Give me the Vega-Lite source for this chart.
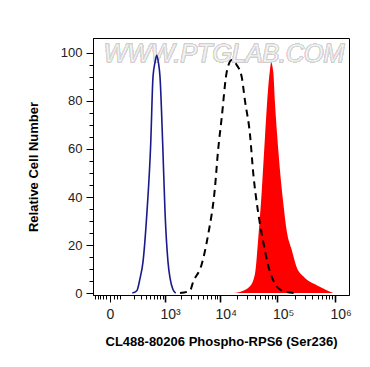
{
  "$schema": "https://vega.github.io/schema/vega-lite/v6.json",
  "width": 256,
  "height": 257,
  "autosize": {"type": "none"},
  "padding": {"left": 93, "top": 38, "right": 21, "bottom": 72},
  "background": "white",
  "config": {
    "view": {"stroke": "#000000", "strokeWidth": 1},
    "font": "Liberation Sans"
  },
  "data": {
    "values": [
      {"series": "blue", "x": 180, "y": 0},
      {"series": "blue", "x": 240, "y": 1},
      {"series": "blue", "x": 289, "y": 6},
      {"series": "blue", "x": 342, "y": 13},
      {"series": "blue", "x": 423, "y": 34},
      {"series": "blue", "x": 510, "y": 62},
      {"series": "blue", "x": 571, "y": 90},
      {"series": "blue", "x": 629, "y": 96},
      {"series": "blue", "x": 682, "y": 99},
      {"series": "blue", "x": 739, "y": 96},
      {"series": "blue", "x": 796, "y": 90},
      {"series": "blue", "x": 901, "y": 62},
      {"series": "blue", "x": 999, "y": 34},
      {"series": "blue", "x": 1142, "y": 13},
      {"series": "blue", "x": 1255, "y": 6},
      {"series": "blue", "x": 1420, "y": 1.5},
      {"series": "blue", "x": 1600, "y": 0},
      {"series": "dashed", "x": 1922, "y": 0},
      {"series": "dashed", "x": 2926, "y": 1},
      {"series": "dashed", "x": 3315, "y": 4.5},
      {"series": "dashed", "x": 4744, "y": 12},
      {"series": "dashed", "x": 6137, "y": 24},
      {"series": "dashed", "x": 8150, "y": 44},
      {"series": "dashed", "x": 9207, "y": 59},
      {"series": "dashed", "x": 10700, "y": 73},
      {"series": "dashed", "x": 13090, "y": 92},
      {"series": "dashed", "x": 16000, "y": 97},
      {"series": "dashed", "x": 19570, "y": 95},
      {"series": "dashed", "x": 23930, "y": 90},
      {"series": "dashed", "x": 27320, "y": 80},
      {"series": "dashed", "x": 33380, "y": 66},
      {"series": "dashed", "x": 38000, "y": 50},
      {"series": "dashed", "x": 46000, "y": 34},
      {"series": "dashed", "x": 56000, "y": 22},
      {"series": "dashed", "x": 70000, "y": 11},
      {"series": "dashed", "x": 90000, "y": 4},
      {"series": "dashed", "x": 120000, "y": 1},
      {"series": "dashed", "x": 165000, "y": 0.2},
      {"series": "dashed", "x": 220000, "y": 0},
      {"series": "red", "x": 16860, "y": 0},
      {"series": "red", "x": 22350, "y": 0.5},
      {"series": "red", "x": 33380, "y": 2.8},
      {"series": "red", "x": 40790, "y": 8},
      {"series": "red", "x": 46550, "y": 23},
      {"series": "red", "x": 53300, "y": 42},
      {"series": "red", "x": 60840, "y": 65},
      {"series": "red", "x": 69440, "y": 86},
      {"series": "red", "x": 74340, "y": 93},
      {"series": "red", "x": 78000, "y": 96},
      {"series": "red", "x": 84850, "y": 92},
      {"series": "red", "x": 90820, "y": 79},
      {"series": "red", "x": 99560, "y": 65},
      {"series": "red", "x": 110900, "y": 51},
      {"series": "red", "x": 126500, "y": 37.5},
      {"series": "red", "x": 145000, "y": 26},
      {"series": "red", "x": 177100, "y": 18},
      {"series": "red", "x": 216200, "y": 10.8},
      {"series": "red", "x": 281400, "y": 7},
      {"series": "red", "x": 367900, "y": 4.7},
      {"series": "red", "x": 481000, "y": 3.3},
      {"series": "red", "x": 717300, "y": 1.2},
      {"series": "red", "x": 934300, "y": 0}
    ]
  },
  "encoding": {
    "x": {
      "field": "x",
      "type": "quantitative",
      "scale": {"type": "symlog", "constant": 125, "domain": [-121.5, 1747000], "nice": false},
      "axis": {
        "title": "CL488-80206 Phospho-RPS6 (Ser236)",
        "titleFont": "Liberation Sans",
        "titleFontSize": 13,
        "titleFontWeight": "bold",
        "titleColor": "#000000",
        "titlePadding": 14,
        "values": [-100, -80, -60, -40, -20, 0, 20, 40, 60, 200, 300, 400, 500, 600, 700, 800, 900, 1000, 2000, 3000, 4000, 5000, 6000, 7000, 8000, 9000, 10000, 20000, 30000, 40000, 50000, 60000, 70000, 80000, 90000, 100000, 200000, 300000, 400000, 500000, 600000, 700000, 800000, 900000, 1000000],
        "labelExpr": "datum.value == 0 ? '0' : datum.value == 1000 ? '10³' : datum.value == 10000 ? '10⁴' : datum.value == 100000 ? '10⁵' : datum.value == 1000000 ? '10⁶' : ''",
        "labelFont": "Liberation Sans",
        "labelFontSize": 14,
        "labelColor": "#222222",
        "labelAlign": "left",
        "labelOffset": {"condition": {"test": "datum.value == 0", "value": -4}, "value": -5},
        "labelPadding": 5,
        "labelOverlap": false,
        "labelFlush": false,
        "grid": false,
        "domainColor": "#000000",
        "tickColor": "#000000",
        "tickSize": {"condition": {"test": "indexof([0,1000,10000,100000,1000000], datum.value) >= 0", "value": 7}, "value": 4},
        "tickWidth": {"condition": {"test": "indexof([1000,10000,100000,1000000], datum.value) >= 0", "value": 1.6}, "value": 1}
      }
    },
    "y": {
      "field": "y",
      "type": "quantitative",
      "scale": {"domain": [-0.8, 106.2], "nice": false, "zero": false},
      "axis": {
        "title": "Relative Cell Number",
        "titleFont": "Liberation Sans",
        "titleFontSize": 13,
        "titleFontWeight": "bold",
        "titleColor": "#000000",
        "titlePadding": 20,
        "values": [0, 5, 10, 15, 20, 25, 30, 35, 40, 45, 50, 55, 60, 65, 70, 75, 80, 85, 90, 95, 100],
        "labelExpr": "datum.value % 20 == 0 ? datum.label : ''",
        "labelFont": "Liberation Sans",
        "labelFontSize": 13,
        "labelColor": "#222222",
        "labelPadding": 4,
        "labelOverlap": false,
        "labelFlush": false,
        "grid": false,
        "domainColor": "#000000",
        "tickColor": "#000000",
        "tickSize": {"condition": {"test": "datum.value % 20 == 0", "value": 7}, "value": 4}
      }
    }
  },
  "layer": [
    {
      "mark": {"type": "text", "text": "WWW.PTGLAB.COM", "font": "Liberation Sans", "fontSize": 25, "fontStyle": "italic", "fill": "#f7f7f7", "stroke": "#cfcfcf", "strokeWidth": 0.6, "align": "center", "baseline": "middle", "dx": 1},
      "encoding": {
        "x": {"datum": 11270, "type": "quantitative"},
        "y": {"datum": 99.5, "type": "quantitative"}
      }
    },
    {
      "transform": [{"filter": "datum.series == 'red'"}],
      "mark": {"type": "area", "color": "#ff0000", "interpolate": "monotone"},
      "encoding": {"y2": {"datum": 0}}
    },
    {
      "transform": [{"filter": "datum.series == 'dashed'"}],
      "mark": {"type": "line", "color": "#000000", "strokeWidth": 2, "strokeDash": [7, 5], "interpolate": "monotone"},
      "encoding": {}
    },
    {
      "transform": [{"filter": "datum.series == 'blue'"}],
      "mark": {"type": "line", "color": "#1a1a8a", "strokeWidth": 1.6, "interpolate": "monotone"},
      "encoding": {}
    }
  ]
}
